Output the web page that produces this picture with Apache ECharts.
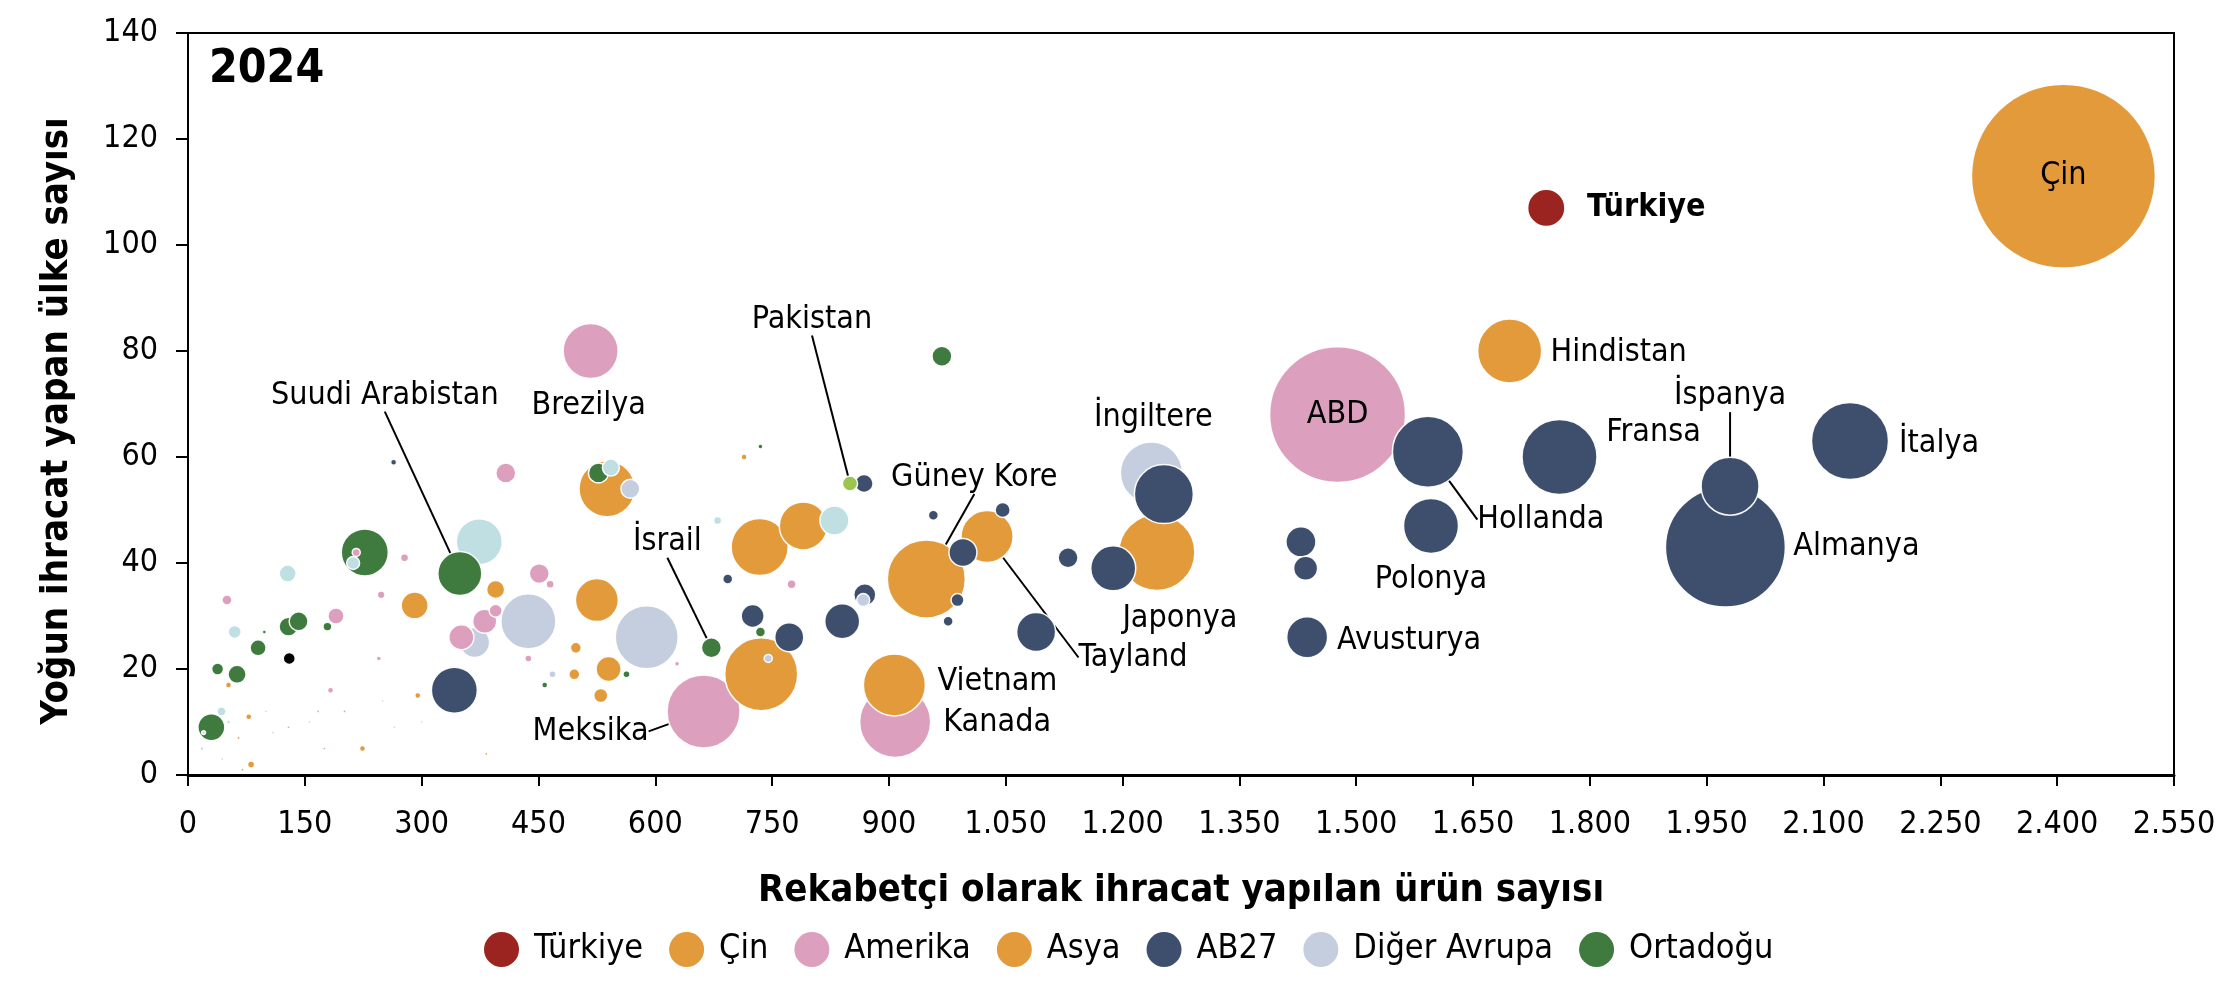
<!DOCTYPE html>
<html>
<head>
<meta charset="UTF-8"/>
<title>2024</title>
<script src="https://cdn.jsdelivr.net/npm/echarts@6/dist/echarts.min.js"></script>
<style>
  html, body { margin: 0; padding: 0; background: #fff; }
  #chart { width: 2232px; height: 982px; }
</style>
</head>
<body>
<div id="chart"></div>
<script type="text/javascript">
// [rekabetçi ürün sayısı, yoğun ihracat yapılan ülke sayısı, ihracat hacmi, ad]
var turkiye = [[1744, 107, 140, 'Türkiye']];
var cin = [[2408, 113, 3410, 'Çin']];
var amerika = [
  [1476, 68, 1860, 'ABD'], [517, 80, 305, 'Brezilya'], [662, 12, 537, 'Meksika'], [908, 10, 508, 'Kanada'],
  [408, 57, 40], [451, 38, 40], [465, 36, 6.5], [248, 34, 6], [50, 33, 10], [381, 29, 58],
  [395, 31, 17], [351, 26, 63], [437, 22, 5], [190, 30, 26], [183, 16, 3.6], [775, 36, 8],
  [278, 41, 6.5], [216, 42, 6.5], [628, 21, 2.5], [245, 22, 2.5], [129, 9, 1], [175, 5, 1],
  [201, 12, 1], [167, 12, 1]
];
var asya = [
  [1697, 80, 413, 'Hindistan'], [948, 37, 613, 'Güney Kore'], [1244, 42, 582, 'Japonya'],
  [1026, 45, 273, 'Tayland'], [907, 17, 388, 'Vietnam'],
  [734, 43, 328], [790, 47, 232], [736, 19, 537], [538, 54, 316], [525, 33, 186], [395, 35, 33],
  [291, 32, 73], [498, 24, 12], [540, 20, 63], [496, 19, 12], [530, 15, 20], [295, 15, 3.6],
  [714, 60, 3.6], [52, 17, 3.6], [78, 11, 3.6], [224, 5, 3.6], [81, 2, 5], [383, 4, 1], [70, 1, 1], [65, 7, 1]
];
var ab27 = [
  [1974, 43, 1450, 'Almanya'], [2134, 63, 598, 'İtalya'], [1761, 60, 567, 'Fransa'],
  [1592, 61, 508, 'Hollanda'], [1980, 54.5, 339, 'İspanya'], [1596, 47, 305, 'Polonya'],
  [1437, 26, 169, 'Avusturya'],
  [1429, 44, 91], [1435, 39, 58], [1253, 53, 351], [1188, 39, 204], [1130, 41, 40], [1089, 27, 153],
  [995, 42, 79], [1046, 50, 23], [957, 49, 10], [988, 33, 17], [976, 29, 10], [869, 34, 49],
  [840, 29, 123], [868, 55, 33], [693, 37, 10], [725, 30, 53], [772, 26, 85], [342, 16, 213], [264, 59, 3.6]
];
var digerAvrupa = [
  [1237, 57, 388, 'İngiltere'],
  [437, 29, 305], [589, 26, 400], [368, 25, 91], [568, 54, 36], [468, 19, 5], [867, 33, 17], [745, 22, 6.5]
];
var ortadogu = [
  [349, 38, 195, 'Suudi Arabistan'], [672, 24, 40, 'İsrail'],
  [227, 42, 223], [527, 57, 40], [129, 28, 36], [142, 29, 36], [179, 28, 8], [90, 24, 26],
  [38, 20, 14.5], [63, 19, 33], [30, 9, 73], [968, 79, 40], [735, 27, 10], [563, 19, 5],
  [458, 17, 3.6], [735, 62, 2.5], [98, 27, 1.6]
];
var digerUlkeler = [
  [374, 44, 213], [830, 48, 85], [543, 58, 29], [128, 38, 29], [212, 40, 17], [60, 27, 17],
  [43, 12, 8], [680, 48, 6.5], [52, 10, 1.5], [18, 5, 1.5], [44, 3, 1], [109, 8, 1], [156, 10, 1],
  [265, 9, 1], [20, 8, 1.5], [100, 12, 1], [250, 14, 1], [300, 10, 1]
];
var guneyAsya = [[850, 55, 23, 'Pakistan']];
var digerSiyah = [[130, 22, 14.5]];

var xMin = 0, xMax = 2550, xStep = 150;
var yMin = 0, yMax = 140, yStep = 20;

// seriler: ad, veri, renk, lejantta mı
var groups = [
  { name: 'Türkiye', data: turkiye, color: '#9C2420', legend: true },
  { name: 'Çin', data: cin, color: '#E29A3B', legend: true },
  { name: 'Amerika', data: amerika, color: '#DC9FBE', legend: true },
  { name: 'Asya', data: asya, color: '#E29A3B', legend: true },
  { name: 'AB27', data: ab27, color: '#3E4F6E', legend: true },
  { name: 'Diğer Avrupa', data: digerAvrupa, color: '#C5CEDF', legend: true },
  { name: 'Ortadoğu', data: ortadogu, color: '#3F7A3E', legend: true },
  { name: 'Diğer', data: digerUlkeler, color: '#BFDFE2', legend: false },
  { name: 'Güney Asya', data: guneyAsya, color: '#9CC54F', legend: false },
  { name: 'Diğer2', data: digerSiyah, color: '#000000', legend: false }
];

// etiketlerin baloncuk merkezine göre kayması (px)
var labelOffsets = {
  'Türkiye': [100, 0], 'Hindistan': [109, 2], 'Fransa': [94, -24], 'İspanya': [0, -90],
  'İtalya': [89, 3], 'Almanya': [131, 0], 'Hollanda': [113, 68], 'Polonya': [0, 54],
  'Avusturya': [102, 3], 'İngiltere': [2, -55], 'Japonya': [23, 66], 'Tayland': [146, 121],
  'Güney Kore': [48, -101], 'Vietnam': [103, -3], 'Kanada': [102, 1], 'Meksika': [-113, 20],
  'İsrail': [-44, -106], 'Pakistan': [-38, -164], 'Suudi Arabistan': [-75, -178], 'Brezilya': [-2, 55]
};
var leaders = ['Suudi Arabistan', 'Pakistan', 'İsrail', 'Meksika', 'Güney Kore', 'Tayland', 'Hollanda', 'İspanya'];

var FONT = '"DejaVu Sans Condensed", "DejaVu Sans", sans-serif';

function fmt(v) {
  if (v >= 1000) return Math.floor(v / 1000) + '.' + String(v % 1000).padStart(3, '0');
  return String(v);
}

// tüm noktalar tek seride, büyükten küçüğe (küçükler üstte)
var points = [];
groups.forEach(function (g) {
  g.data.forEach(function (d) {
    var name = d[3];
    var item = {
      value: [d[0], d[1], d[2]],
      itemStyle: { color: g.color }
    };
    if (name) {
      item.name = name;
      item.label = { show: true, fontWeight: name === 'Türkiye' ? 'bold' : 'normal' };
      if (leaders.indexOf(name) >= 0) {
        item.labelLine = { show: true, lineStyle: { color: '#000', width: 2 } };
      }
    }
    points.push(item);
  });
});
points.sort(function (a, b) { return b.value[2] - a.value[2]; });

var series = groups.filter(function (g) { return g.legend; }).map(function (g) {
  return { name: g.name, type: 'scatter', data: [], itemStyle: { color: g.color, opacity: 1 } };
});
series.push({
  name: 'veri',
  type: 'scatter',
  data: points,
  symbolSize: function (val) { return 3.15 * Math.sqrt(val[2]); },
  itemStyle: { borderColor: 'rgba(255,255,255,0.95)', borderWidth: 1.5, opacity: 1 },
  label: {
    show: false,
    position: 'inside',
    formatter: '{b}',
    color: '#000',
    fontSize: 32,
    fontFamily: FONT
  },
  labelLayout: function (params) {
    var off = labelOffsets[params.text];
    if (!off) return {};
    return { dx: off[0], dy: off[1] };
  },
  emphasis: { disabled: true }
});

var chart = echarts.init(document.getElementById('chart'));
var option = {
  animation: false,
  textStyle: { fontFamily: FONT },
  title: {
    text: '2024',
    left: 204,
    top: 42,
    textStyle: { fontSize: 46, fontWeight: 'bold', color: '#000', fontFamily: FONT }
  },
  grid: {
    left: 188, right: 58, top: 33, bottom: 207,
    show: true, borderColor: '#000', borderWidth: 2
  },
  legend: {
    data: groups.filter(function (g) { return g.legend; }).map(function (g) { return g.name; }),
    left: 484,
    top: 932,
    padding: 0,
    icon: 'circle',
    itemWidth: 35,
    itemHeight: 35,
    itemGap: 26,
    selectedMode: false,
    textStyle: { fontSize: 34, color: '#000', fontFamily: FONT, padding: [0, 0, 0, 10] }
  },
  xAxis: {
    type: 'value',
    min: xMin, max: xMax, interval: xStep,
    name: 'Rekabetçi olarak ihracat yapılan ürün sayısı',
    nameLocation: 'middle',
    nameGap: 97,
    nameTextStyle: { fontSize: 38, fontWeight: 'bold', color: '#000', fontFamily: FONT },
    axisLine: { show: true, lineStyle: { color: '#000', width: 3 } },
    axisTick: { show: true, length: 11, lineStyle: { color: '#000', width: 2 } },
    axisLabel: { color: '#000', fontSize: 32, margin: 34, formatter: fmt, fontFamily: FONT },
    splitLine: { show: false }
  },
  yAxis: {
    type: 'value',
    min: yMin, max: yMax, interval: yStep,
    name: 'Yoğun ihracat yapan ülke sayısı',
    nameLocation: 'middle',
    nameGap: 112,
    nameTextStyle: {
      fontSize: 38, fontWeight: 'bold', color: '#000', fontFamily: FONT,
      padding: [0, 34, 0, 0]
    },
    axisLine: { show: true, lineStyle: { color: '#000', width: 2 } },
    axisTick: { show: true, length: 12, lineStyle: { color: '#000', width: 2 } },
    axisLabel: { color: '#000', fontSize: 32, margin: 30, fontFamily: FONT },
    splitLine: { show: false }
  },
  series: series
};
chart.setOption(option);
</script>
</body>
</html>
